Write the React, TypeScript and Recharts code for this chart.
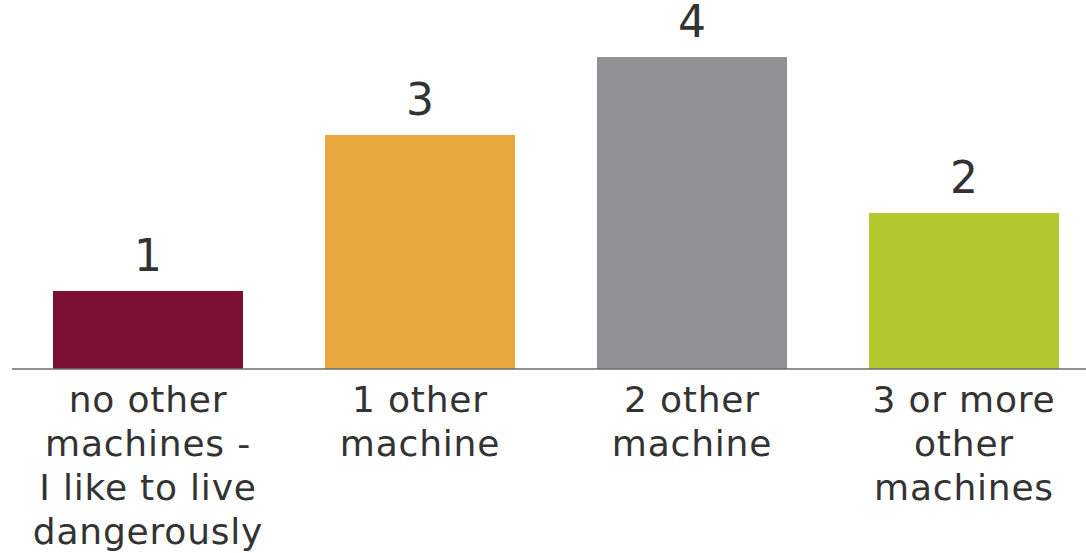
import React from "react";
import { BarChart, Bar, XAxis, YAxis, Cell, LabelList } from "recharts";

const categories = [
  "no other machines - I like to live dangerously",
  "1 other machine",
  "2 other machine",
  "3 or more other machines",
];
const tickLines = [
  ["no other", "machines -", "I like to live", "dangerously"],
  ["1 other", "machine"],
  ["2 other", "machine"],
  ["3 or more", "other", "machines"],
];
const counts = [1, 3, 4, 2];
const colors = ["#7B1034", "#E8A83E", "#8F9393", "#B2C82E"];

const data = categories.map((name, i) => ({ name, count: counts[i] }));

const FONT = "'DejaVu Sans', sans-serif";

// multi-line category label under each bar
const WrappedTick = (props: any) => {
  const { x, y, index } = props;
  const lines = tickLines[index] || [];
  return (
    <text x={x} y={y} textAnchor="middle" fill="#333" fontSize={36} fontFamily={FONT} letterSpacing={0.8}>
      {lines.map((l, i) => (
        <tspan key={i} x={x} dy={i === 0 ? 35 : 44}>
          {l}
        </tspan>
      ))}
    </text>
  );
};

export default function App() {
  return (
    <div style={{ position: "absolute", left: 0, top: 0, width: 1086, height: 553, overflow: "hidden", background: "#fff" }}>
      <BarChart
        width={1100}
        height={553}
        data={data}
        margin={{ top: 57, right: 0, bottom: 0, left: 12 }}
        barSize={190}
      >
        <XAxis
          dataKey="name"
          interval={0}
          height={184}
          tickLine={false}
          axisLine={{ stroke: "#6b6b6b", strokeWidth: 1.5 }}
          tick={<WrappedTick />}
        />
        <YAxis hide domain={[0, 4]} />
        <Bar dataKey="count" isAnimationActive={false}>
          {data.map((d, i) => (
            <Cell key={d.name} fill={colors[i]} />
          ))}
          <LabelList dataKey="count" position="top" offset={20} fill="#333" fontSize={44} fontFamily={FONT} />
        </Bar>
      </BarChart>
    </div>
  );
}
